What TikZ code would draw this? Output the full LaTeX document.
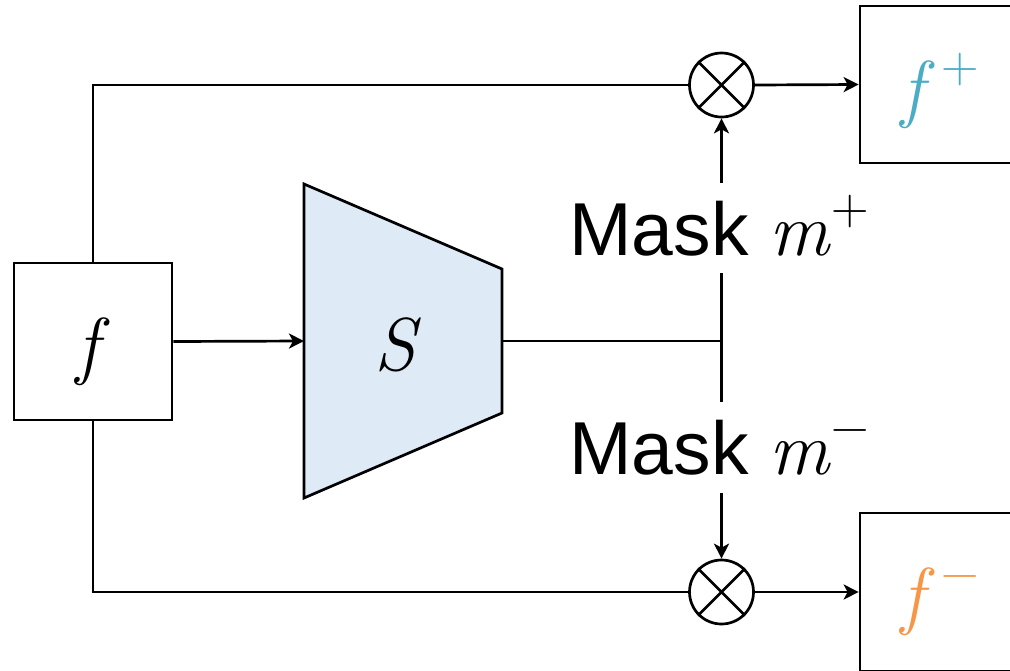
\documentclass[tikz,border=0pt]{standalone}
\usepackage{fontspec}
\setmainfont{Liberation Sans}
\newfontfamily\lmr{Latin Modern Roman}
\usetikzlibrary{arrows.meta}
\definecolor{sfill}{RGB}{222,234,246}
\definecolor{fplus}{RGB}{75,172,198}
\definecolor{fminus}{RGB}{247,150,70}
\newcommand{\itv}[1]{{\lmr\itshape #1\/}}
\newcommand{\supv}[1]{\raisebox{31pt}{\fontsize{52pt}{52pt}\selectfont\lmr #1}}
\tikzset{
  x=1pt, y=-1pt,
  every node/.style={font=\fontsize{75pt}{90pt}\selectfont},
  lw/.style={line width=2.7pt},
  fbox/.style={lw, draw, rectangle, inner sep=0pt, minimum width=158pt, minimum height=157pt, text height=60pt, text depth=2.6pt},
  mult/.style={lw, draw, circle, inner sep=0pt, minimum size=64pt},
  masklabel/.style={fill=white, inner sep=0pt, minimum height=90pt, text height=54pt, text depth=0pt},
  arr/.style={lw, -{Stealth[length=15pt,width=15pt,inset=4pt]}},
  conn/.style={lw},
}
\begin{document}
\begin{tikzpicture}
\useasboundingbox (0,0) rectangle (1010,670);
\clip (0,0) rectangle (1010,670);
% input feature
\node[fbox] (f) at (93,341.5) {\itv{f}};
% segmentation network S
\coordinate (St) at (304,184);
\coordinate (Sb) at (304,498);
\coordinate (Rt) at (502,269);
\coordinate (Rb) at (502,413);
\coordinate (Sin) at (304,341);
\coordinate (Sout) at (502,341);
\draw[lw, fill=sfill] (St) -- (Rt) -- (Rb) -- (Sb) -- cycle;
\node (S) at (398,345) {\itv{S}};
% output boxes
\node[fbox, minimum width=160pt] (fp) at (940,84.5) {\color{fplus}\itv{f}\kern6pt\supv{+}};
\node[fbox, minimum width=160pt, minimum height=158pt] (fm) at (940,592) {\color{fminus}\itv{f}\kern6pt\supv{−}};
% multipliers
\node[mult] (cp) at (721.5,85) {};
\node[mult] (cm) at (721.5,592) {};
\draw[lw] (cp.north east) -- (cp.south west) (cp.north west) -- (cp.south east);
\draw[lw] (cm.north east) -- (cm.south west) (cm.north west) -- (cm.south east);
% junction and mask labels
\coordinate (J) at (721.5,341);
\node[masklabel] (lp) at (719,228) {Mask \itv{m}\supv{+}};
\node[masklabel] (lm) at (719,447.5) {Mask \itv{m}\supv{−}};
\coordinate (lpS) at (721.5,273);
\coordinate (lpN) at (721.5,183);
\coordinate (lmN) at (721.5,402);
\coordinate (lmS) at (721.5,493);
% connectors
\draw[arr] (f.east) -- (Sin);
\draw[conn] (Sout) -- (J);
\draw[conn] (lpS) -- (lmN);
\draw[arr] (lpN) -- (cp.south);
\draw[arr] (lmS) -- (cm.north);
\draw[conn] (f.north) |- (cp.west);
\draw[conn] (f.south) |- (cm.west);
\draw[arr] (cp.east) -- (fp.west);
\draw[arr] (cm.east) -- (fm.west);
\end{tikzpicture}
\end{document}
